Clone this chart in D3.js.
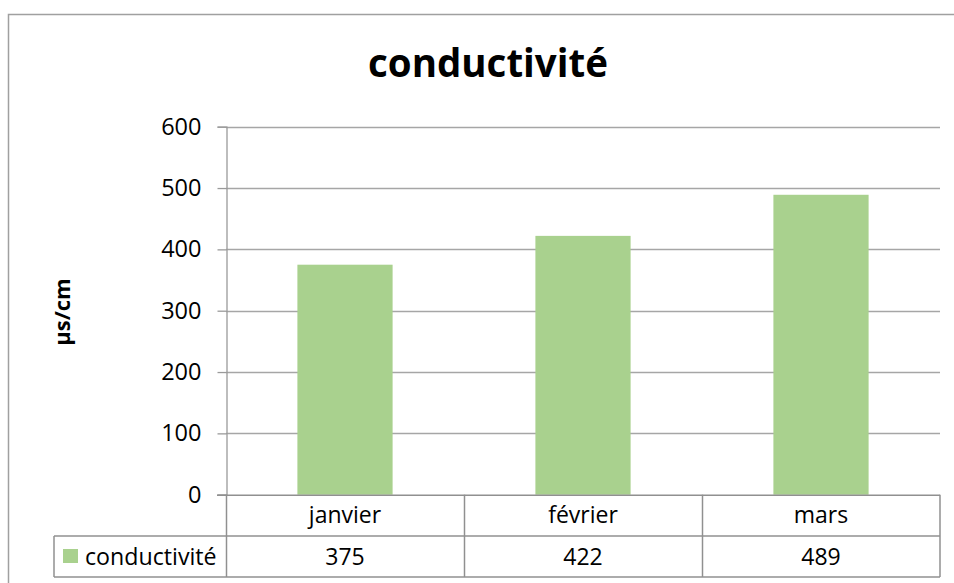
<!DOCTYPE html>
<html><head><meta charset="utf-8">
<script src="https://cdn.jsdelivr.net/npm/d3@7"></script>
<style>
html,body{margin:0;padding:0;background:#fff;}
svg{display:block;}
text{font-family:"Open Sans","Carlito","Calibri",sans-serif;fill:#000;}
</style></head>
<body>
<script>
const categories = ["janvier", "février", "mars"];
const values = [375, 422, 489];
const seriesName = "conductivité";
const yTicks = [0, 100, 200, 300, 400, 500, 600];
const chartTitle = "conductivité";
const yAxisTitle = "µs/cm";

const W = 954, H = 583;
const svg = d3.select("body").append("svg").attr("width", W).attr("height", H);

// outer chart border (extends beyond right/bottom)
svg.append("rect").attr("x", 8.5).attr("y", 14.5).attr("width", 980).attr("height", 620)
  .attr("fill", "none").attr("stroke", "#a0a0a0").attr("stroke-width", 1.5);

const plot = {l: 226, r: 940, t: 126.7, b: 494.7};
const x = d3.scaleBand().domain(categories).range([plot.l, plot.r]).paddingInner(0.6).paddingOuter(0.3);
const xc = d3.scaleBand().domain(categories).range([plot.l, plot.r]).padding(0);
const y = d3.scaleLinear().domain([0, 600]).range([plot.b, plot.t]);

// gridlines
svg.append("g").selectAll("line").data(yTicks.filter(d => d > 0)).join("line")
  .attr("x1", plot.l).attr("x2", plot.r)
  .attr("y1", d => Math.round(y(d)) + 0.5).attr("y2", d => Math.round(y(d)) + 0.5)
  .attr("stroke", "#a6a6a6").attr("stroke-width", 1.3);

// y axis via d3
const yAxis = d3.axisLeft(y).tickValues(yTicks).tickSize(9).tickPadding(16);
const gy = svg.append("g").attr("transform", `translate(${plot.l + 0.5},0)`).call(yAxis);
gy.select(".domain").attr("stroke", "#9a9a9a").attr("stroke-width", 1.3);
gy.selectAll(".tick line").attr("stroke", "#9a9a9a").attr("stroke-width", 1.3);
gy.selectAll(".tick text").attr("font-size", 23.5).attr("font-family", "'Open Sans',sans-serif").attr("fill", "#000");

// bars
svg.append("g").selectAll("rect").data(values).join("rect")
  .attr("x", (d, i) => x(categories[i]))
  .attr("width", x.bandwidth())
  .attr("y", d => y(d))
  .attr("height", d => y(0) - y(d))
  .attr("fill", "#a9d18e");

// data table
const rowTop1 = plot.b, rowTop2 = 536, rowBottom = 577, tableLeft = 54;
const tl = svg.append("g").attr("stroke", "#909090").attr("stroke-width", 1.5).attr("fill", "none");
tl.append("line").attr("x1", plot.l - 9).attr("x2", plot.r).attr("y1", rowTop1 + 0.5).attr("y2", rowTop1 + 0.5);
tl.append("line").attr("x1", tableLeft).attr("x2", plot.r).attr("y1", rowTop2).attr("y2", rowTop2);
tl.append("line").attr("x1", tableLeft).attr("x2", plot.r).attr("y1", rowBottom).attr("y2", rowBottom);
tl.append("line").attr("x1", tableLeft).attr("x2", tableLeft).attr("y1", rowTop2).attr("y2", rowBottom);
tl.selectAll("line.v").data(categories.concat(["end"])).join("line").attr("class", "v")
  .attr("x1", (d, i) => i < categories.length ? xc(d) + 0.5 : plot.r)
  .attr("x2", (d, i) => i < categories.length ? xc(d) + 0.5 : plot.r)
  .attr("y1", rowTop1).attr("y2", rowBottom);

svg.append("g").selectAll("text").data(categories).join("text")
  .attr("x", d => xc(d) + xc.bandwidth() / 2).attr("y", (rowTop1 + rowTop2) / 2)
  .attr("dy", "0.35em").attr("text-anchor", "middle").attr("font-size", 23).text(d => d);
svg.append("g").selectAll("text").data(values).join("text")
  .attr("x", (d, i) => xc(categories[i]) + xc.bandwidth() / 2).attr("y", (rowTop2 + rowBottom) / 2)
  .attr("dy", "0.35em").attr("text-anchor", "middle").attr("font-size", 23).text(d => d);

// legend key in table
svg.append("rect").attr("x", 63).attr("y", 549).attr("width", 15).attr("height", 14).attr("fill", "#a9d18e");
svg.append("text").attr("x", 85).attr("y", (rowTop2 + rowBottom) / 2).attr("dy", "0.35em")
  .attr("font-size", 23.2).text(seriesName);

// title
svg.append("text").attr("x", 488).attr("y", 77).attr("text-anchor", "middle")
  .attr("font-size", 38.5).attr("font-weight", "bold").text(chartTitle);

// y axis title
svg.append("text").attr("transform", "translate(70,312) rotate(-90)").attr("text-anchor", "middle")
  .attr("font-size", 22).attr("font-weight", "bold").text(yAxisTitle);
</script>
</body></html>
